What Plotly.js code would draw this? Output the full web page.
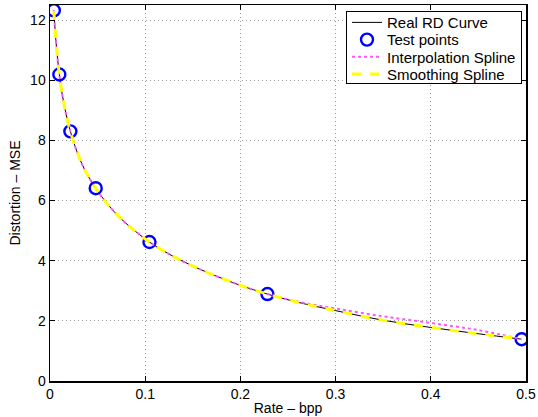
<!DOCTYPE html>
<html>
<head>
<meta charset="utf-8">
<script src="https://cdn.plot.ly/plotly-3.0.1.min.js"></script>
<style>html,body{margin:0;padding:0;background:#fff;}#chart{width:538px;height:417px;}</style>
</head>
<body>
<div id="chart"></div>
<script>
// Real rate-distortion curve
const realRate = [0.004,0.006,0.008,0.0098,0.013,0.017,0.0214,0.028,0.036,0.048,0.06,0.075,0.09,0.1045,0.125,0.15,0.18,0.2,0.2284,0.26,0.3,0.35,0.4,0.45,0.4954];
const realDist = [12.32,11.4,10.7,10.19,9.5,8.85,8.30,7.65,7.05,6.41,5.90,5.38,4.97,4.62,4.22,3.82,3.42,3.18,2.89,2.62,2.34,2.02,1.78,1.57,1.39];
// Test points
const testRate = [0.004,0.0098,0.0214,0.048,0.1045,0.2284,0.4954];
const testDist = [12.32,10.19,8.30,6.41,4.62,2.89,1.39];
// Interpolation spline
const interpRate = [0.004,0.006,0.008,0.0098,0.013,0.017,0.0214,0.028,0.036,0.048,0.06,0.075,0.09,0.1045,0.125,0.15,0.18,0.2,0.2284,0.26,0.3,0.35,0.4,0.45,0.4954];
const interpDist = [12.32,11.4,10.7,10.19,9.5,8.85,8.30,7.65,7.05,6.41,5.90,5.38,4.97,4.62,4.22,3.82,3.42,3.18,2.89,2.64,2.41,2.15,1.93,1.69,1.39];
// Smoothing spline
const smoothRate = [0.004,0.006,0.008,0.0098,0.013,0.017,0.0214,0.028,0.036,0.048,0.06,0.075,0.09,0.1045,0.125,0.15,0.18,0.2,0.2284,0.26,0.3,0.35,0.4,0.45,0.4954];
const smoothDist = [12.30,11.4,10.7,10.19,9.5,8.85,8.30,7.65,7.05,6.41,5.90,5.38,4.97,4.62,4.22,3.82,3.42,3.18,2.89,2.62,2.34,2.02,1.78,1.57,1.40];

const xTicks = [0,0.1,0.2,0.3,0.4,0.5];
const xTickText = ['0','0.1','0.2','0.3','0.4','0.5'];
const yTicks = [0,2,4,6,8,10,12];
const yTickText = ['0','2','4','6','8','10','12'];

const traces = [
  {x: realRate, y: realDist, mode: 'lines', name: 'Real RD Curve', line: {color: '#000000', width: 1, shape: 'spline'}},
  {x: testRate, y: testDist, mode: 'markers', name: 'Test points', marker: {symbol: 'circle-open', size: 12, color: '#0000ff', line: {width: 2.4, color: '#0000ff'}}},
  {x: interpRate, y: interpDist, mode: 'lines', name: 'Interpolation Spline', line: {color: '#ff55ff', width: 2, dash: 'dot', shape: 'spline'}},
  {x: smoothRate, y: smoothDist, mode: 'lines', name: 'Smoothing Spline', line: {color: '#ffff00', width: 3, dash: 'dash', shape: 'spline'}}
];

const axisCommon = {
  showline: true, linecolor: '#000', linewidth: 1.5, mirror: 'ticks',
  ticks: 'inside', ticklen: 5, tickcolor: '#000',
  showgrid: true, gridcolor: '#9a9a9a', griddash: '1px,3px', gridwidth: 1,
  zeroline: false, tickfont: {size: 14, color: '#000'}
};

const layout = {
  width: 538, height: 417,
  margin: {l: 50, r: 12, t: 5, b: 36},
  paper_bgcolor: '#fff', plot_bgcolor: '#fff',
  font: {family: 'Liberation Sans, Arial, sans-serif', color: '#000', size: 14},
  showlegend: true,
  xaxis: Object.assign({}, axisCommon, {range: [0, 0.5], tickvals: xTicks, ticktext: xTickText, title: {text: 'Rate – bpp', standoff: 2, font: {size: 14}}}),
  yaxis: Object.assign({}, axisCommon, {range: [0, 12.5], tickvals: yTicks, ticktext: yTickText, title: {text: 'Distortion – MSE', standoff: 6, font: {size: 14}}}),
  legend: {x: 0.9916, y: 0.985, xanchor: 'right', yanchor: 'top', bgcolor: '#fff', bordercolor: '#000', borderwidth: 1, font: {size: 15}, tracegroupgap: 0}
};

const gd = document.getElementById('chart');
Plotly.newPlot(gd, traces, layout, {displayModeBar: false, staticPlot: true}).then(function () {
  // compress legend row spacing to match the reference
  const items = gd.querySelectorAll('.legend .traces');
  if (items.length < 2) return;
  const parse = el => {
    const m = /translate\(\s*([-\d.]+)[ ,]+([-\d.]+)\s*\)/.exec(el.getAttribute('transform') || '');
    return m ? [parseFloat(m[1]), parseFloat(m[2])] : [0, 0];
  };
  const p0 = parse(items[0]);
  const p1 = parse(items[1]);
  const origStep = p1[1] - p0[1];
  const step = 17.2;
  const lift = 5.5;
  items.forEach((el, i) => {
    const p = parse(el);
    el.setAttribute('transform', 'translate(' + p[0] + ',' + (p0[1] - lift + i * step) + ')');
  });
  const shrink = (origStep - step) * (items.length - 1) + 13;
  gd.querySelectorAll('.legend rect.bg').forEach(r => {
    const h = parseFloat(r.getAttribute('height'));
    r.setAttribute('height', h - shrink);
  });
});
</script>
</body>
</html>
